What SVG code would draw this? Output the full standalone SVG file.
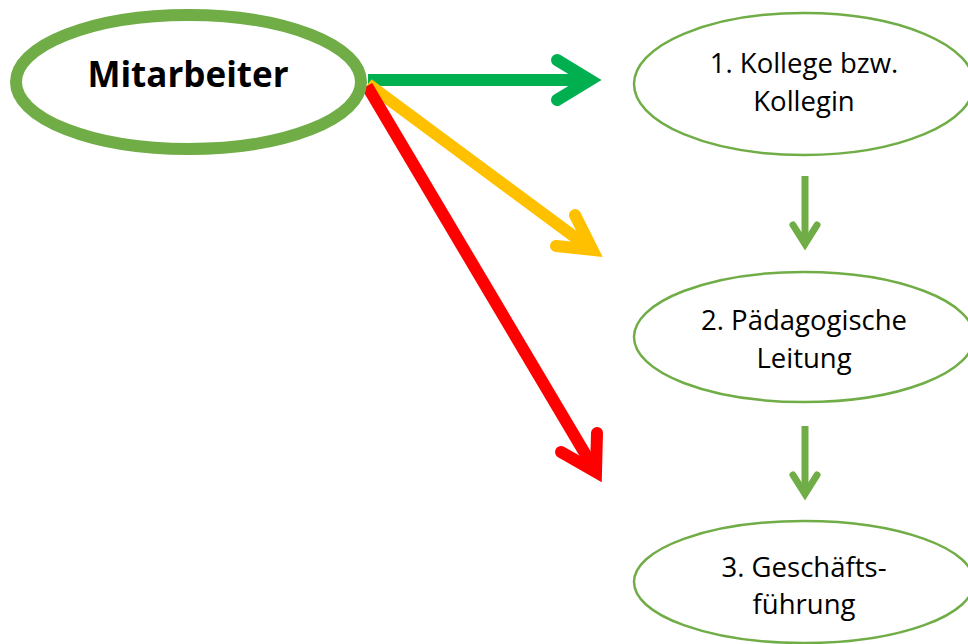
<svg xmlns="http://www.w3.org/2000/svg" width="968" height="644" viewBox="0 0 968 644">
<style>
.node{fill:#fff;stroke:#70AD47;stroke-width:2.5}
.main{fill:#fff;stroke:#70AD47;stroke-width:12}
.t{font-family:"Open Sans","Liberation Sans",sans-serif;font-size:27.5px;fill:#000;text-anchor:middle}
.tb{font-family:"Open Sans","Liberation Sans",sans-serif;font-size:35px;font-weight:bold;fill:#000;text-anchor:middle}
.a{fill:none;stroke-width:12;stroke-linecap:round;stroke-linejoin:miter;stroke-miterlimit:10}
.s{fill:none;stroke:#70AD47;stroke-width:7;stroke-linecap:round;stroke-linejoin:miter;stroke-miterlimit:10}
</style>
<g id="connectors">
<line class="a" x1="368" y1="80" x2="590" y2="80" stroke="#00B050" style="stroke-linecap:butt"/>
<polyline class="a" points="557,60 590,80 557,100" stroke="#00B050"/>
<line class="a" x1="368" y1="84" x2="592" y2="249.8" stroke="#FFC000" style="stroke-linecap:butt"/>
<polyline class="a" points="575,215 592.4,249.8 556,246" stroke="#FFC000"/>
<line class="a" x1="367" y1="86" x2="596" y2="472" stroke="#FF0000" style="stroke-linecap:butt"/>
<polyline class="a" points="597,433 596,472 561,452" stroke="#FF0000"/>
<line class="s" x1="805" y1="176" x2="805" y2="244" style="stroke-linecap:butt"/>
<polyline class="s" points="793,225 805,244 817,225"/>
<line class="s" x1="805" y1="426" x2="805" y2="494" style="stroke-linecap:butt"/>
<polyline class="s" points="793,475 805,494 817,475"/>
</g>
<g id="mitarbeiter">
<ellipse class="main" cx="188.5" cy="82" rx="172.5" ry="67"/>
<text class="tb" x="188" y="87">Mitarbeiter</text>
</g>
<g id="kollege">
<ellipse class="node" cx="804" cy="84" rx="170" ry="71"/>
<text class="t" x="804" y="73">1. Kollege bzw.</text>
<text class="t" x="804" y="111">Kollegin</text>
</g>
<g id="leitung">
<ellipse class="node" cx="804" cy="337" rx="170" ry="65"/>
<text class="t" x="804" y="330">2. Pädagogische</text>
<text class="t" x="804" y="368">Leitung</text>
</g>
<g id="geschaeftsfuehrung">
<ellipse class="node" cx="804" cy="582" rx="170" ry="61"/>
<text class="t" x="804" y="577">3. Geschäfts-</text>
<text class="t" x="804" y="614">führung</text>
</g>
</svg>
